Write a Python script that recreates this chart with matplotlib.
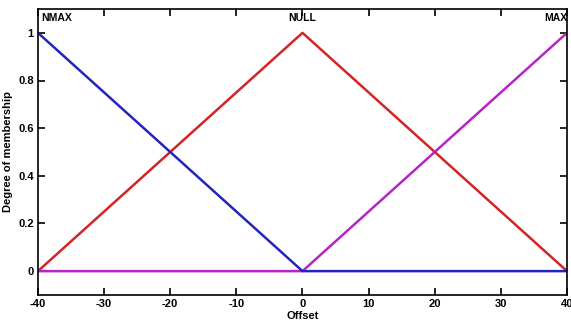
import matplotlib
matplotlib.use("Agg")
import matplotlib.pyplot as plt

# membership functions (triangular)
offset = [-40, 0, 40]
nmax = [1, 0, 0]
null = [0, 1, 0]
pmax = [0, 0, 1]

xticks = [-40, -30, -20, -10, 0, 10, 20, 30, 40]
yticks = [0, 0.2, 0.4, 0.6, 0.8, 1]

plt.rcParams["font.family"] = ["Liberation Sans", "DejaVu Sans"]
plt.rcParams["font.weight"] = "bold"
plt.rcParams["axes.unicode_minus"] = False

fig = plt.figure(figsize=(5.71, 3.22), dpi=100)
ax = fig.add_axes([0.0665, 0.084, 0.9265, 0.888])

ax.plot(offset, null, color="#d42424", lw=1.8)
ax.plot(offset, pmax, color="#b524c4", lw=1.8)
ax.plot(offset, nmax, color="#2424bd", lw=1.8)

ax.text(-39.5, 1.04, "NMAX", fontsize=7.5, fontweight="bold", ha="left", va="bottom")
ax.text(0, 1.04, "NULL", fontsize=7.5, fontweight="bold", ha="center", va="bottom")
ax.text(40, 1.04, "MAX", fontsize=7.5, fontweight="bold", ha="right", va="bottom")

ax.set_xlim(-40, 40)
ax.set_ylim(-0.1, 1.1)
ax.set_xticks(xticks)
ax.set_yticks(yticks)
ax.set_yticklabels(["0", "0.2", "0.4", "0.6", "0.8", "1"])
ax.tick_params(direction="in", top=True, right=True, length=5, width=1.2,
               labelsize=8, pad=3)
for sp in ax.spines.values():
    sp.set_linewidth(1.2)

ax.set_xlabel("Offset", fontsize=8, fontweight="bold", labelpad=1)
ax.set_ylabel("Degree of membership", fontsize=8, fontweight="bold", labelpad=4)

fig.savefig("out.png", dpi=100)
